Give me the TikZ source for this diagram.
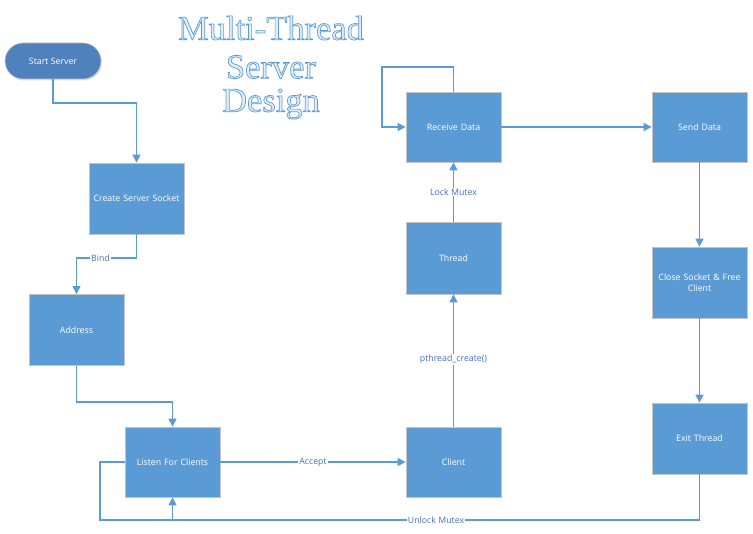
\documentclass[tikz,border=0pt]{standalone}
\usepackage{fontspec}
\setmainfont{Liberation Serif}
\newfontfamily\boxfont{Open Sans}
\usetikzlibrary{arrows.meta,shadows}
\definecolor{boxblue}{HTML}{5B9BD5}
\definecolor{startblue}{HTML}{4F81BD}
\definecolor{edgegray}{HTML}{C4C4C4}
\definecolor{lineblue}{HTML}{5B9BD5}
\definecolor{labelblue}{HTML}{4472C4}
\definecolor{titleblue}{HTML}{5B9BD5}
\newcommand{\outlinetext}[1]{\special{pdf:literal direct 2 Tr 0.7 w 0.357 0.608 0.835 RG 0.88 0.93 0.98 rg}#1\special{pdf:literal direct 0 Tr}}
\tikzset{
  procbox/.style={draw=edgegray, line width=0.8pt, fill=boxblue, minimum width=95pt, minimum height=71pt,
    text=white, font=\boxfont\fontsize{8.8}{11}\selectfont, align=center, text width=92pt, inner sep=0pt,
    drop shadow={shadow xshift=1pt, shadow yshift=-1pt, opacity=0.25}},
  startbox/.style={draw=edgegray, line width=0.6pt, fill=startblue, minimum width=96pt, minimum height=36pt,
    rounded corners=18pt, text=white, font=\boxfont\fontsize{8.8}{11}\selectfont, inner sep=0pt,
    drop shadow={shadow xshift=1pt, shadow yshift=-1.5pt, opacity=0.25}},
  conn/.style={draw=lineblue, line width=1.1pt, -{Triangle[length=8pt,width=8pt]}},
  plainconn/.style={draw=lineblue, line width=1.1pt},
  lbl/.style={fill=white, text=labelblue, font=\boxfont\fontsize{8.8}{11}\selectfont, inner sep=1pt},
  titletext/.style={text=titleblue, font=\fontsize{34.5}{38}\selectfont}
}
\begin{document}
\begin{tikzpicture}[x=1pt,y=-1pt]
\useasboundingbox (0,0) rectangle (753,534);
\fill[white] (0,0) rectangle (753,534);
% title
\node[titletext] (t1) at (271,28) {\outlinetext{Multi-Thread}};
\node[titletext] (t2) at (271,67) {\outlinetext{Server}};
\node[titletext] (t3) at (271,104) {\outlinetext{Design}};
% nodes
\node[startbox] (start) at (53,61) {Start Server};
\node[procbox] (create) at (136.5,198.5) {Create Server Socket};
\node[procbox] (address) at (76.5,330) {Address};
\node[procbox, minimum height=70pt] (listen) at (172.5,462) {Listen For Clients};
\node[procbox, minimum height=70pt] (client) at (453.5,462) {Client};
\node[procbox, minimum height=72pt] (thread) at (453.5,258) {Thread};
\node[procbox, minimum height=70pt] (receive) at (453.5,127) {Receive Data};
\node[procbox, minimum height=70pt] (send) at (699.5,127) {Send Data};
\node[procbox] (close) at (699.5,282.5) {Close Socket \& Free\\Client};
\node[procbox] (exit) at (699.5,438.5) {Exit Thread};
% connectors
\coordinate (c1) at (53,103);
\coordinate (c2) at (136.5,103);
\draw[conn] (start.south) -- (c1) -- (c2) -- (create.north);
\coordinate (b1) at (136.5,258);
\coordinate (b2) at (76.5,258);
\draw[conn] (create.south) -- (b1) -- (b2) node[lbl, pos=0.6] {Bind} -- (address.north);
\coordinate (a1) at (76.5,402);
\coordinate (a2) at (172.5,402);
\draw[conn] (address.south) -- (a1) -- (a2) -- (listen.north);
\draw[conn] (listen.east) -- node[lbl] {Accept} (client.west);
\draw[conn] (client.north) -- node[lbl, pos=0.51] {pthread\_create()} (thread.south);
\draw[conn] (thread.north) -- node[lbl, pos=0.5] {Lock Mutex} (receive.south);
\coordinate (r1) at (453.5,67);
\coordinate (r2) at (382,67);
\coordinate (r3) at (382,127);
\draw[conn] (receive.north) -- (r1) -- (r2) -- (r3) -- (receive.west);
\draw[conn] (receive.east) -- (send.west);
\draw[conn] (send.south) -- (close.north);
\draw[conn] (close.south) -- (exit.north);
\coordinate (u1) at (699.5,520);
\coordinate (u2) at (172.5,520);
\draw[conn] (exit.south) -- (u1) -- node[lbl, pos=0.5] {Unlock Mutex} (u2) -- (listen.south);
\coordinate (l1) at (100,462);
\coordinate (l2) at (100,520);
\draw[plainconn] (listen.west) -- (l1) -- (l2) -- (u2);
\end{tikzpicture}
\end{document}
